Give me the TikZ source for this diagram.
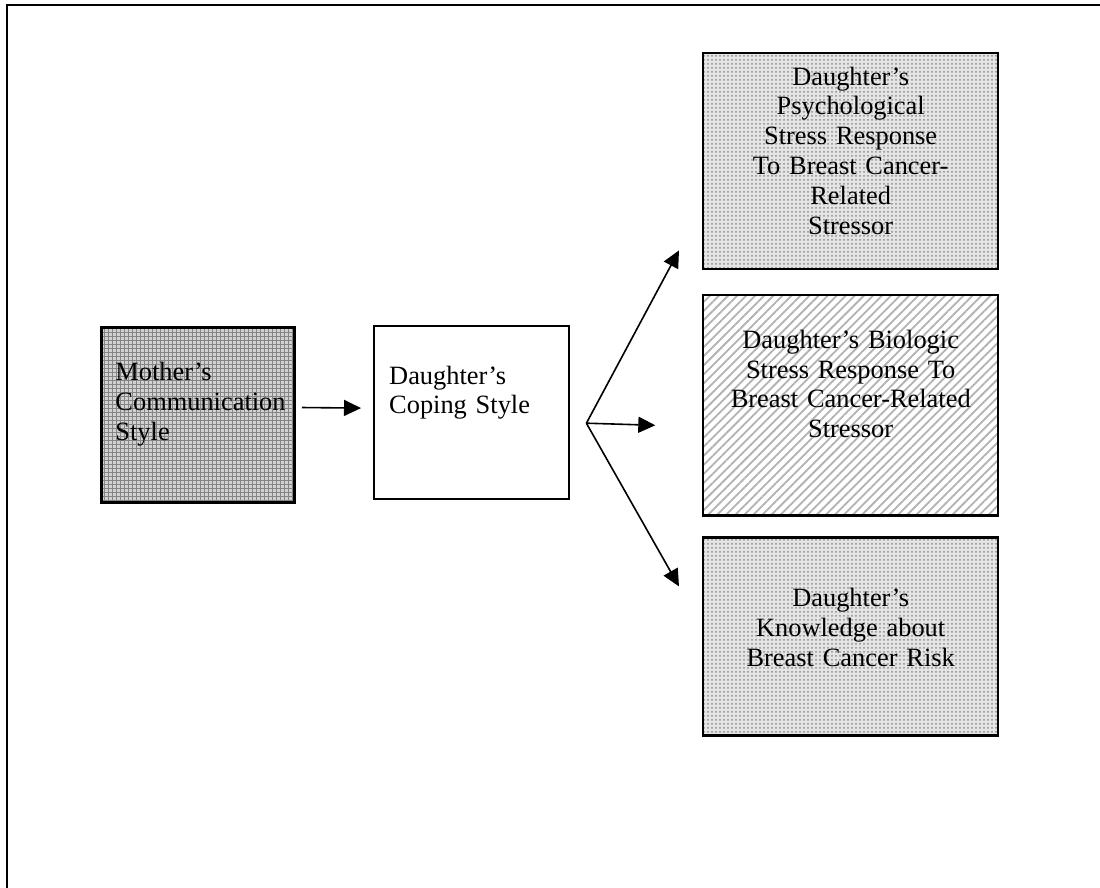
\documentclass[tikz,border=0pt]{standalone}
\usepackage{fontspec}
\setmainfont{Liberation Serif}
\usetikzlibrary{positioning, arrows.meta, patterns.meta}

\begin{document}
\begin{tikzpicture}[
    x=0.5pt, y=-0.5pt,
    >={Triangle[length=8.5pt, width=8pt]},
    font=\fontsize{13.2}{14.9}\selectfont,
    box/.style={draw, line width=1.2pt, inner sep=0pt},
    leftbox/.style={box, anchor=north west, inner xsep=7pt, text width=82.5pt, align=left},
    rightbox/.style={box, text width=147.5pt, align=center},
    darkgrid/.style={preaction={fill=black!18}, pattern={Hatch[angle=0, distance=2pt, line width=0.45pt]}, pattern color=black!48},
    lightdots/.style={preaction={fill=black!10}, pattern={Dots[distance=2pt, radius=0.5pt]}, pattern color=black!45},
    stripes/.style={preaction={fill=white}, pattern={Lines[angle=45, distance=3.2pt, line width=0.9pt]}, pattern color=black!30},
    arr/.style={->, line width=0.8pt}
]
    \useasboundingbox (0,0) rectangle (1100,888);

    % --- page frame ---
    \draw[line width=1.2pt] (7,888) -- (7,5) -- (1100,5);

    % --- left column ---
    \node[leftbox, darkgrid, text height=26.5pt, text depth=61pt] (mother) at (101,327)
        {Mother’s\\Communication\\Style};
    \node[leftbox, inner xsep=7.5pt, text height=29pt, text depth=57.5pt] (coping) at (373,325)
        {Daughter’s\\Coping Style};

    % --- outcome boxes ---
    \node[rightbox, lightdots, anchor=north west, text height=16pt, text depth=92pt] (psych) at (702,52)
        {Daughter’s\\Psychological\\Stress Response\\To Breast Cancer-\\Related\\Stressor};
    \node[rightbox, stripes, below=12pt of psych, text height=26.5pt, text depth=83.5pt] (bio)
        {Daughter’s Biologic\\Stress Response To\\Breast Cancer-Related\\Stressor};
    \node[rightbox, lightdots, below=10pt of bio, text height=34.5pt, text depth=64.5pt] (know)
        {Daughter’s\\Knowledge about\\Breast Cancer Risk};

    % --- arrows ---
    \draw[arr, shorten <=3.5pt, shorten >=6pt] ([yshift=3.75pt]mother.east) -- ([yshift=2.25pt]coping.west);

    \coordinate (fork) at ([xshift=8pt, yshift=-5.25pt]coping.east);
    \draw[arr] (fork) -- ([xshift=-11.5pt, yshift=10pt]psych.south west);
    \draw[arr] (fork) -- ([xshift=-23.5pt, yshift=-10pt]bio.west);
    \draw[arr] (fork) -- ([xshift=-11.5pt, yshift=25pt]know.west);

\end{tikzpicture}
\end{document}
